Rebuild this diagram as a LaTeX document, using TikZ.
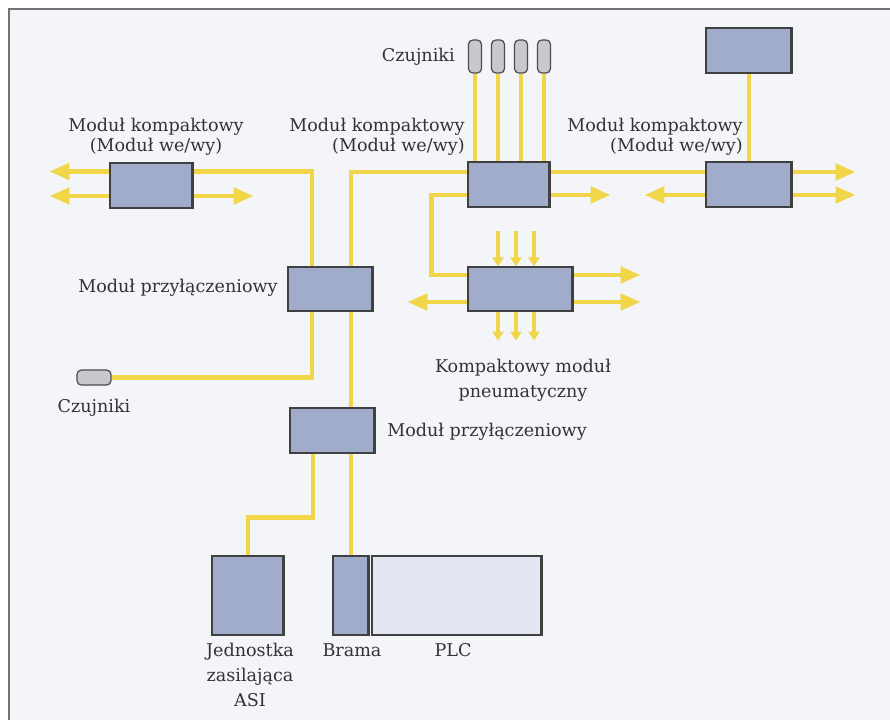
\documentclass[tikz,border=0pt]{standalone}
\usepackage{fontspec}
\setmainfont{DejaVu Serif}
\usetikzlibrary{arrows.meta,calc}
\definecolor{busyellow}{RGB}{242,214,74}
\definecolor{modfill}{RGB}{160,172,202}
\definecolor{plcfill}{RGB}{226,231,243}
\definecolor{czfill}{RGB}{200,201,206}
\definecolor{paper}{RGB}{243,245,249}
\tikzset{
  modul/.style={draw=black!75, fill=modfill, line width=0.7pt, inner sep=0pt,
    path picture={\draw[black!75,line width=2.4pt] (path picture bounding box.north east) -- (path picture bounding box.south east);}},
  czujnik/.style={draw=black!70, fill=czfill, line width=0.7pt, rounded corners=2.5pt, inner sep=0pt},
  bus/.style={busyellow, line width=2.8pt},
  busarrow/.style={bus, -{Triangle[length=0.4cm,width=0.32cm]}},
  smallarrow/.style={busyellow, line width=2pt, -{Triangle[length=0.18cm,width=0.22cm]}},
  lbl/.style={font=\fontsize{10}{11.4}\selectfont, text=black!80, inner sep=0pt},
  lbltall/.style={font=\fontsize{10}{14.2}\selectfont, text=black!80, inner sep=0pt},
}

\begin{document}
\begin{tikzpicture}[x=0.02cm,y=-0.02cm]
		%%%%% START %%%%%
		\useasboundingbox (0,0) rectangle (890,720);
		\fill[paper] (9,9) rectangle (890,720);
		\draw[black!55, line width=1pt] (9,720) -- (9,9) -- (890,9);
		
		% moduly kompaktowe
		\node[modul, minimum width=1.66cm, minimum height=0.9cm] (kompL) at (151.5,185.5) {};
		\node[modul, minimum width=1.64cm, minimum height=0.9cm] (kompM) at (509,184.5) {};
		\node[modul, minimum width=1.72cm, minimum height=0.9cm] (kompR) at (749,184.5) {};
		\node[modul, minimum width=1.72cm, minimum height=0.9cm] (topR) at (749,50.5) {};
		\node[modul, minimum width=2.1cm, minimum height=0.88cm] (pneu) at (520.5,289) {};
		
		% moduly przylaczeniowe
		\node[modul, minimum width=1.7cm, minimum height=0.88cm] (przyl1) at (330.5,289) {};
		\node[modul, minimum width=1.7cm, minimum height=0.9cm] (przyl2) at (332.5,430.5) {};
		
		% zasilanie, brama, PLC
		\node[modul, minimum width=1.44cm, minimum height=1.58cm] (asi) at (248,595.5) {};
		\node[modul, minimum width=0.72cm, minimum height=1.58cm] (brama) at (351,595.5) {};
		\node[modul, fill=plcfill, minimum width=3.4cm, minimum height=1.58cm] (plc) at (457,595.5) {};
		
		% czujniki
		\foreach \i/\x in {1/475,2/498,3/521,4/544}
			\node[czujnik, minimum width=0.26cm, minimum height=0.66cm] (cz\i) at (\x,56.5) {};
		\node[czujnik, minimum width=0.68cm, minimum height=0.3cm] (czL) at (94,377.5) {};
		
		% magistrala
		\draw[busarrow] ([yshift=.28cm]kompL.west) -- ++(-60,0);
		\draw[busarrow] ([yshift=-.21cm]kompL.west) -- ++(-60,0);
		\draw[busarrow] ([yshift=-.21cm]kompL.east) -- ++(60,0);
		\draw[bus] ([yshift=.28cm]kompL.east) -| ([xshift=-.37cm]przyl1.north);
		\draw[bus] ([yshift=.25cm]kompM.west) -| ([xshift=.41cm]przyl1.north);
		\draw[bus] ([xshift=.41cm]przyl1.south) -- ([xshift=.41cm]przyl1.south |- przyl2.north);
		\draw[bus] ([xshift=-.37cm]przyl1.south) |- (czL.east);
		\draw[bus] (brama.north) -- (brama.north |- przyl2.south);
		\draw[bus] ([xshift=-.39cm]przyl2.south) -- ++(0,64) -| (asi.north);
		
		\foreach \i in {1,...,4}
			\draw[bus] (cz\i.south) -- (cz\i.south |- kompM.north);
		
		\draw[bus] ([yshift=.25cm]kompM.east) -- ([yshift=.25cm]kompR.west);
		\draw[busarrow] ([yshift=-.21cm]kompM.east) -- ++(60,0);
		\draw[busarrow] ([yshift=-.21cm]kompR.west) -- ++(-61,0);
		\draw[busarrow] ([yshift=.25cm]kompR.east) -- ++(63,0);
		\draw[busarrow] ([yshift=-.21cm]kompR.east) -- ++(63,0);
		\draw[bus] (topR.south) -- (kompR.north);
		
		\draw[bus] ([yshift=-.21cm]kompM.west) -- ++(-36,0) |- ([yshift=.28cm]pneu.west);
		\draw[busarrow] ([yshift=-.26cm]pneu.west) -- ++(-60,0);
		\draw[busarrow] ([yshift=.28cm]pneu.east) -- ++(67,0);
		\draw[busarrow] ([yshift=-.26cm]pneu.east) -- ++(67,0);
		\foreach \dx in {-0.45,-0.09,0.27} {
			\draw[smallarrow] ([xshift=\dx cm]pneu.north) ++(0,-35) -- ([xshift=\dx cm]pneu.north);
			\draw[smallarrow] ([xshift=\dx cm]pneu.south) -- ++(0,29);
		}
		
		% opisy
		\node[lbl, align=center] (lblL) at (156,137) {Moduł kompaktowy\\(Moduł we/wy)};
		\node[lbl, align=right, anchor=east] (lblM) at (465,137) {Moduł kompaktowy\\(Moduł we/wy)};
		\node[lbl, align=right, anchor=east] (lblR) at (743,137) {Moduł kompaktowy\\(Moduł we/wy)};
		\node[lbl, anchor=east] (lblCz) at (455,57) {Czujniki};
		\node[lbl] (lblCzL) at (94,408) {Czujniki};
		\node[lbl, anchor=east] (lblP1) at (278,288) {Moduł przyłączeniowy};
		\node[lbl, anchor=west] (lblP2) at (387,432) {Moduł przyłączeniowy};
		\node[lbltall, align=center] (lblPneu) at (523,380) {Kompaktowy moduł\\pneumatyczny};
		\node[lbltall, align=center] (lblAsi) at (250,675) {Jednostka\\zasilająca\\ASI};
		\node[lbl] (lblBrama) at (352,650) {Brama};
		\node[lbl] (lblPlc) at (453,650) {PLC};
		
		%%%%% END %%%%%
\end{tikzpicture}
\end{document}
